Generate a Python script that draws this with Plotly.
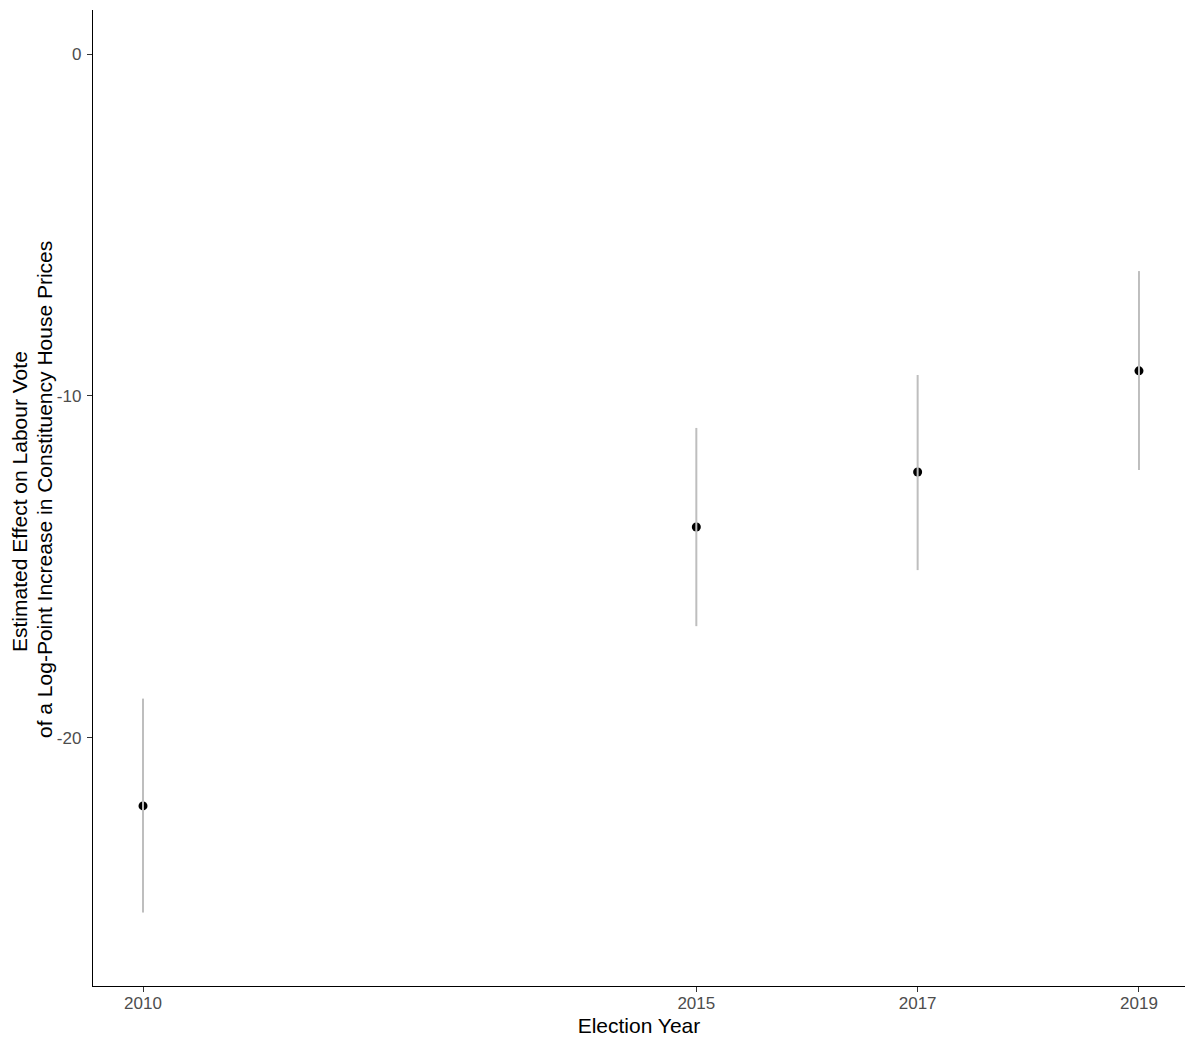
import plotly.graph_objects as go

years = [2010, 2015, 2017, 2019]
estimate = [-22.0, -13.84, -12.23, -9.27]
ci_low = [-25.12, -16.74, -15.10, -12.17]
ci_high = [-18.86, -10.94, -9.39, -6.35]

x_ticks = [2010, 2015, 2017, 2019]
y_ticks = [0, -10, -20]

y_title_lines = ["Estimated Effect on Labour Vote",
                 "of a Log-Point Increase in Constituency House Prices"]

# Build CI segments from the data arrays
seg_x, seg_y = [], []
for yr, lo, hi in zip(years, ci_low, ci_high):
    seg_x += [yr, yr, None]
    seg_y += [lo, hi, None]

fig = go.Figure()
fig.add_trace(go.Scatter(
    x=years, y=estimate, mode="markers",
    marker=dict(color="black", size=9), showlegend=False, hoverinfo="x+y"))
fig.add_trace(go.Scatter(
    x=seg_x, y=seg_y, mode="lines",
    line=dict(color="#bebebe", width=2), showlegend=False, hoverinfo="skip"))

font = "Liberation Sans, Arial, sans-serif"
fig.update_layout(
    width=1200, height=1047,
    margin=dict(l=85, r=23, t=2, b=69),
    paper_bgcolor="white", plot_bgcolor="white",
    font=dict(family=font, color="black"),
    showlegend=False,
)
fig.update_xaxes(
    range=[2009.548, 2019.416], tickvals=x_ticks, ticktext=[str(v) for v in x_ticks],
    showgrid=False, zeroline=False, showline=True, linecolor="black", linewidth=1.4,
    ticks="outside", ticklen=5, tickwidth=1.1, tickcolor="#333333",
    ticklabelstandoff=-4,
    tickfont=dict(size=17, color="#4d4d4d", family=font),
    title=dict(text="Election Year", font=dict(size=21, color="black", family=font), standoff=6),
)
fig.update_yaxes(
    range=[-27.27, 1.29], tickvals=y_ticks, ticktext=[str(v) for v in y_ticks],
    showgrid=False, zeroline=False, showline=True, linecolor="black", linewidth=1.4,
    ticks="outside", ticklen=5, tickwidth=1.1, tickcolor="#333333",
    ticklabelstandoff=2,
    tickfont=dict(size=17, color="#4d4d4d", family=font),
)
for line_text, xs, ys in zip(y_title_lines, [-74, -49], [-4, 8]):
    fig.add_annotation(
        text=line_text, xref="paper", yref="paper", x=0, y=0.5,
        xshift=xs, yshift=ys, textangle=-90, showarrow=False,
        xanchor="center", yanchor="middle",
        font=dict(size=21, color="black", family=font))

fig.write_html("out.html")
